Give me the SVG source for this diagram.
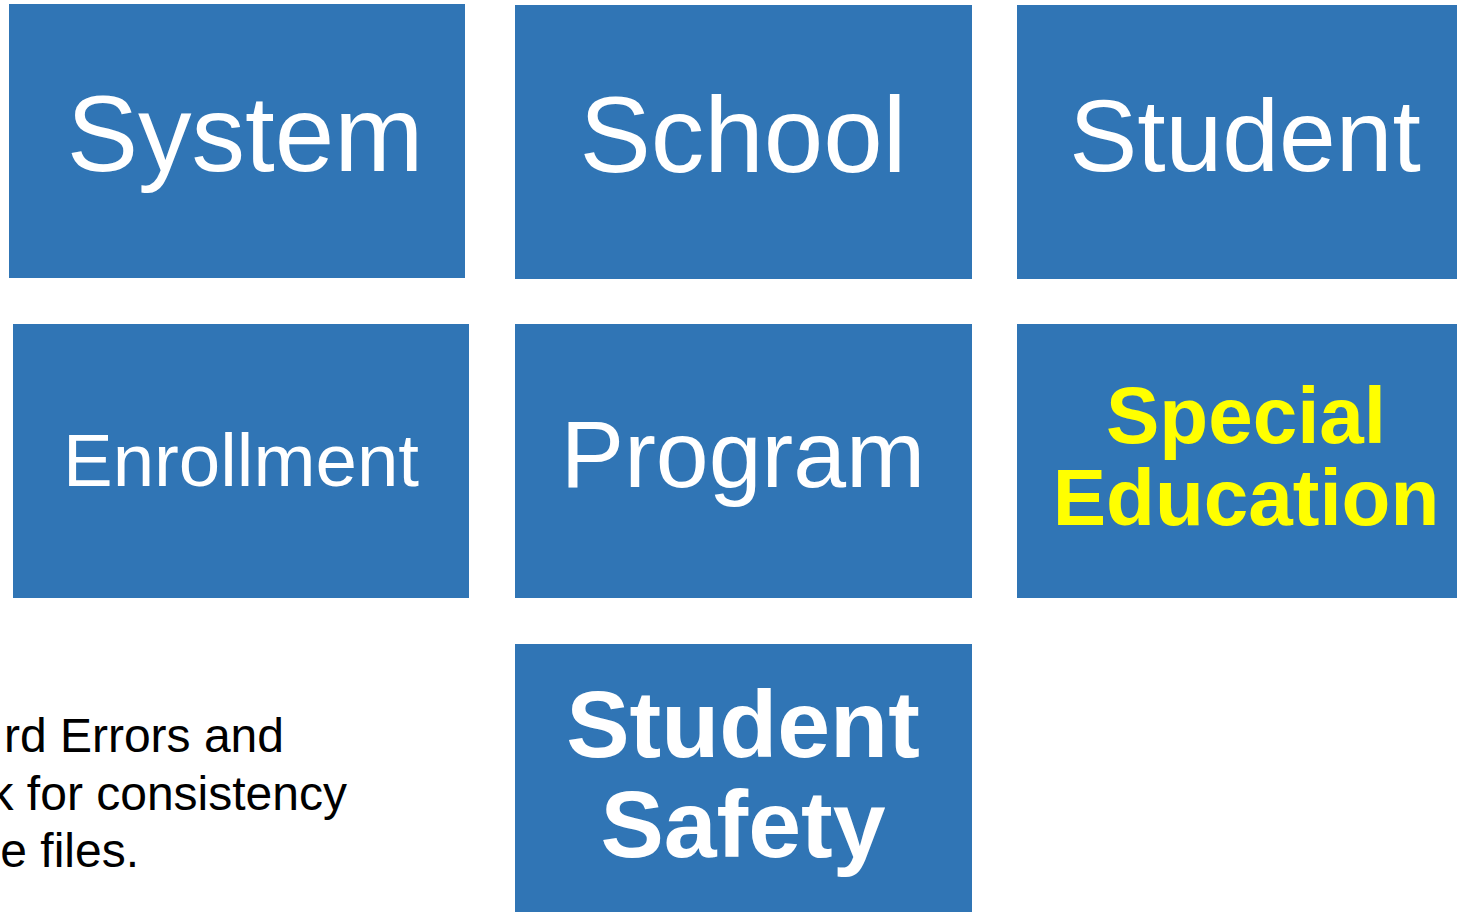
<svg xmlns="http://www.w3.org/2000/svg" width="1457" height="912" viewBox="0 0 1457 912">
<style>
.box{fill:#3075B5}
.t{font-family:"Liberation Sans",Arial,sans-serif;fill:#FFFFFF;text-anchor:middle}
.b{font-weight:bold}
.y{fill:#FFFF00}
.note{font-family:"Liberation Sans",Arial,sans-serif;fill:#000000;font-size:48px;text-anchor:end}
</style>
<rect width="1457" height="912" fill="#FFFFFF"/>
<g id="system"><rect class="box" x="9" y="4" width="456" height="274"/><text class="t" x="245" y="171" font-size="107">System</text></g>
<g id="school"><rect class="box" x="515" y="5" width="457" height="274"/><text class="t" x="743" y="172" font-size="107">School</text></g>
<g id="student"><rect class="box" x="1017" y="5" width="440" height="274"/><text class="t" x="1245" y="171" font-size="102">Student</text></g>
<g id="enrollment"><rect class="box" x="13" y="324" width="456" height="274"/><text class="t" x="241" y="486" font-size="74.5">Enrollment</text></g>
<g id="program"><rect class="box" x="515" y="324" width="457" height="274"/><text class="t" x="743" y="487" font-size="95">Program</text></g>
<g id="special-education"><rect class="box" x="1017" y="324" width="440" height="274"/><text class="t b y" x="1246" y="443" font-size="80">Special</text><text class="t b y" x="1246" y="525" font-size="80">Education</text></g>
<g id="student-safety"><rect class="box" x="515" y="644" width="457" height="268"/><text class="t b" x="743" y="757" font-size="95">Student</text><text class="t b" x="743" y="857" font-size="95">Safety</text></g>
<g id="connectors"></g>
<g id="note"><text class="note" x="284" y="752">rd Errors and</text><text class="note" x="347" y="810">k for consistency</text><text class="note" x="139" y="867">e files.</text></g>
</svg>
